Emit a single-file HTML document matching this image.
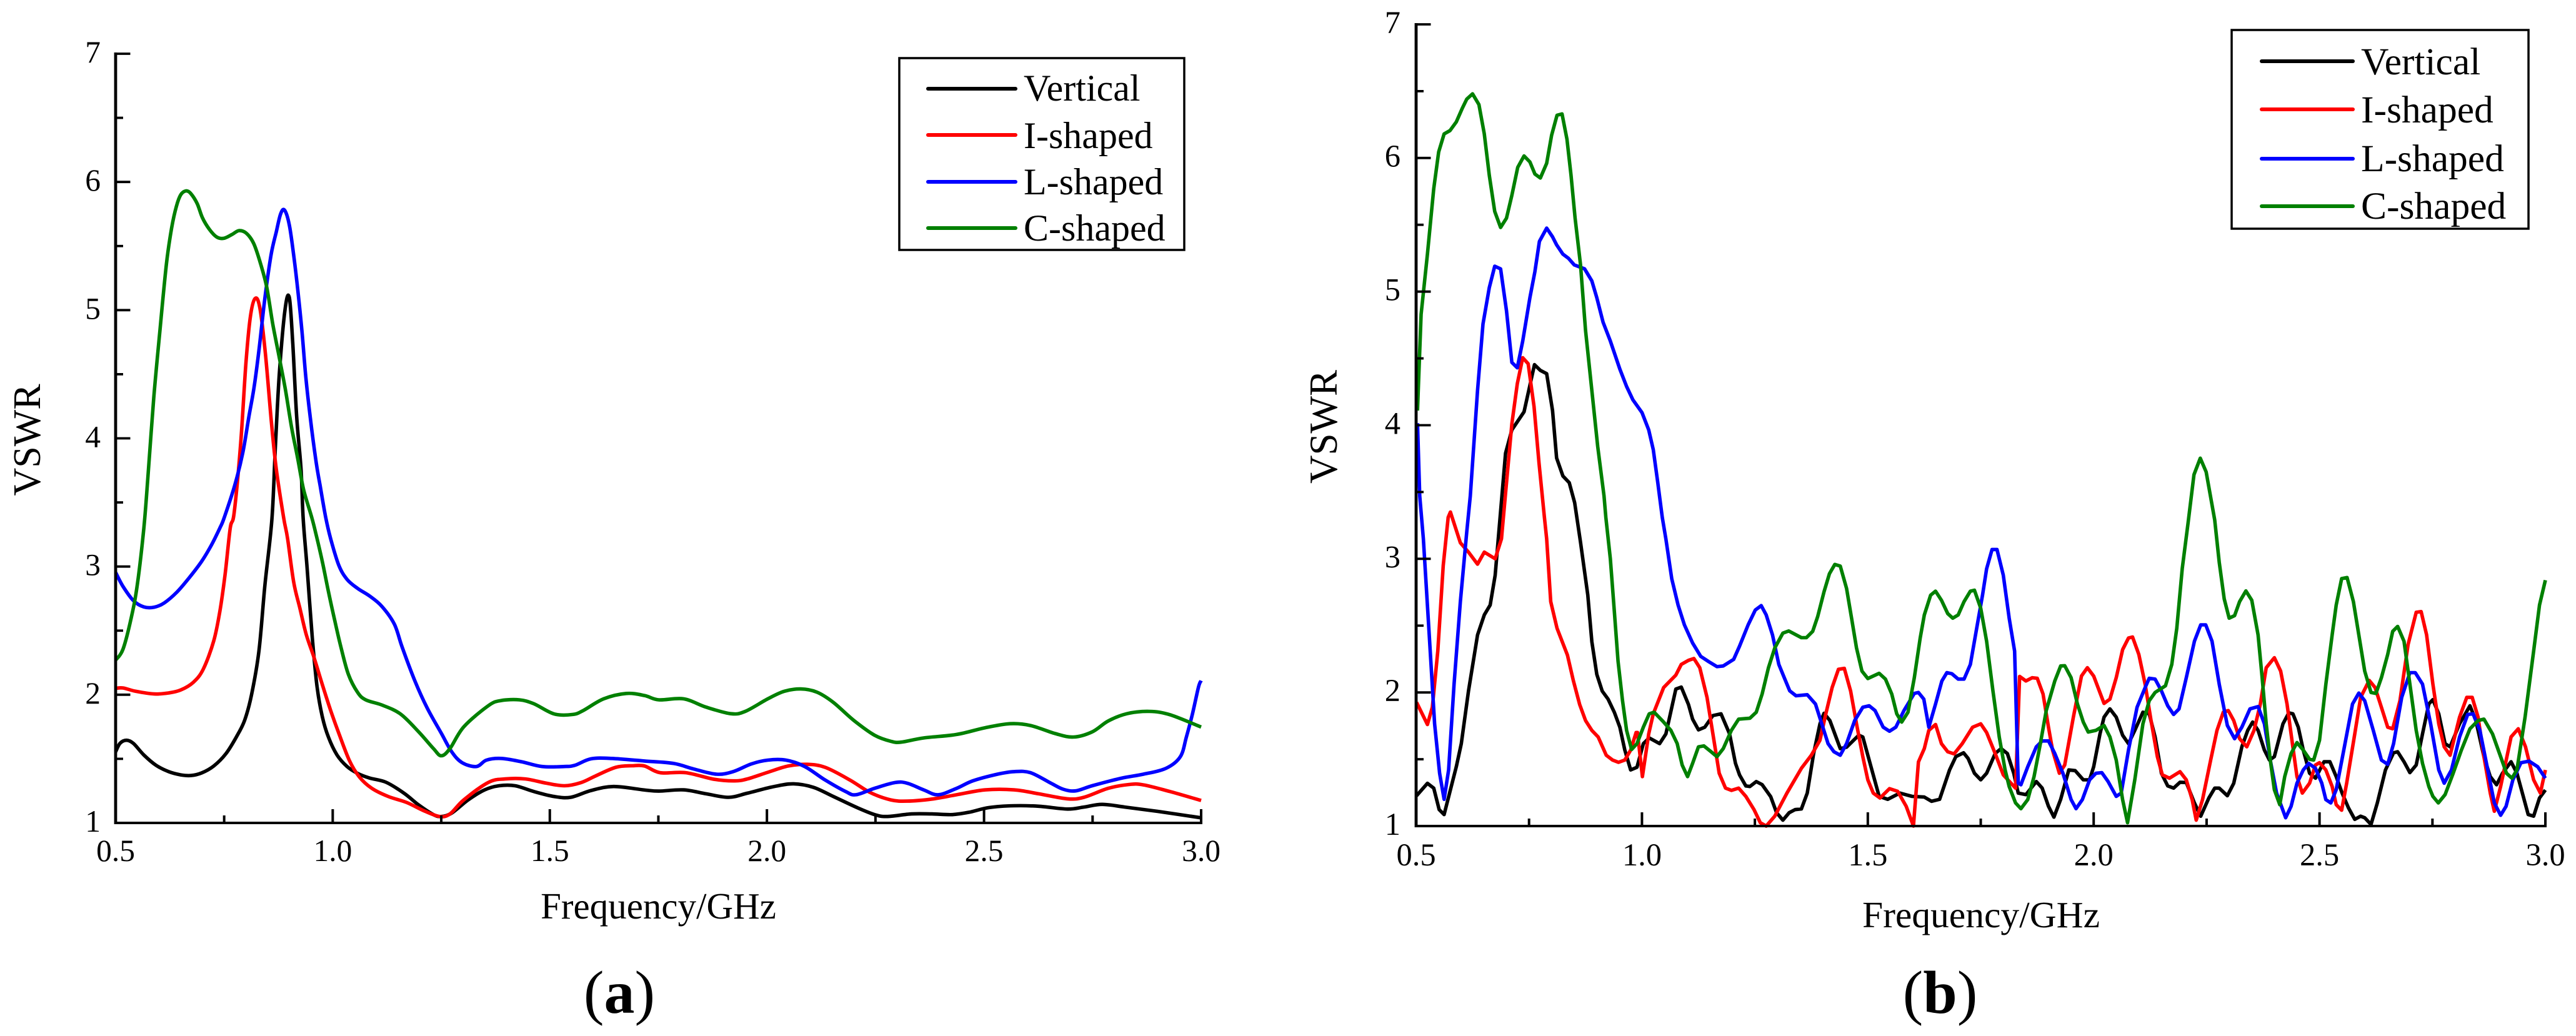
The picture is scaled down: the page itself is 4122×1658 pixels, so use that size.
<!DOCTYPE html>
<html lang="en">
<head>
<meta charset="utf-8">
<title>VSWR vs Frequency</title>
<style>
html,body{margin:0;padding:0;background:#fff;width:4122px;height:1658px;overflow:hidden}
svg{display:block}
text{font-family:"Liberation Serif","Times New Roman",serif;fill:#000}
</style>
</head>
<body>
<svg id="figure" xmlns="http://www.w3.org/2000/svg" width="4122" height="1658" viewBox="0 0 4122 1658">
  <rect x="0" y="0" width="4122" height="1658" fill="#fff"/>
  <g id="chart-a"></g>
  <g id="chart-b"></g>

  <text x="1053.5" y="1470" font-size="59" text-anchor="middle">Frequency/GHz</text>
  <text transform="translate(64,704) rotate(-90)" font-size="62" text-anchor="middle">VSWR</text>
  <text x="991" y="1621" font-size="98" text-anchor="middle">(<tspan font-weight="bold">a</tspan>)</text>

  <text x="3170" y="1484" font-size="59.5" text-anchor="middle">Frequency/GHz</text>
  <text transform="translate(2139,683) rotate(-90)" font-size="63" text-anchor="middle">VSWR</text>
  <text x="3104.5" y="1621" font-size="98" text-anchor="middle">(<tspan font-weight="bold">b</tspan>)</text>

  <g>
    <rect x="1439" y="93" width="456" height="307" fill="#fff" stroke="#000" stroke-width="3.5"/>
    <line x1="1485" x2="1625" y1="142" y2="142" stroke="#000" stroke-width="6" stroke-linecap="round"/>
    <line x1="1485" x2="1625" y1="216" y2="216" stroke="#f00" stroke-width="6" stroke-linecap="round"/>
    <line x1="1485" x2="1625" y1="291" y2="291" stroke="#00f" stroke-width="6" stroke-linecap="round"/>
    <line x1="1485" x2="1625" y1="365" y2="365" stroke="#008000" stroke-width="6" stroke-linecap="round"/>
    <text x="1638" y="161" font-size="60">Vertical</text>
    <text x="1638" y="237" font-size="60">I-shaped</text>
    <text x="1638" y="311" font-size="60">L-shaped</text>
    <text x="1638" y="385" font-size="60">C-shaped</text>
  </g>

  <g>
    <rect x="3571" y="48" width="475" height="318" fill="#fff" stroke="#000" stroke-width="3.5"/>
    <line x1="3619" x2="3765" y1="98" y2="98" stroke="#000" stroke-width="6" stroke-linecap="round"/>
    <line x1="3619" x2="3765" y1="175" y2="175" stroke="#f00" stroke-width="6" stroke-linecap="round"/>
    <line x1="3619" x2="3765" y1="254" y2="254" stroke="#00f" stroke-width="6" stroke-linecap="round"/>
    <line x1="3619" x2="3765" y1="330" y2="330" stroke="#008000" stroke-width="6" stroke-linecap="round"/>
    <text x="3778" y="119" font-size="61.5">Vertical</text>
    <text x="3778" y="196" font-size="61.5">I-shaped</text>
    <text x="3778" y="274" font-size="61.5">L-shaped</text>
    <text x="3778" y="350" font-size="61.5">C-shaped</text>
  </g>
</svg>

<script>
var xMajorTicks = [0.5, 1.0, 1.5, 2.0, 2.5, 3.0];
var xMajorLabels = ["0.5", "1.0", "1.5", "2.0", "2.5", "3.0"];
var xMinorTicks = [0.75, 1.25, 1.75, 2.25, 2.75];
var yMajorTicks = [1, 2, 3, 4, 5, 6, 7];
var yMajorLabels = ["1", "2", "3", "4", "5", "6", "7"];
var yMinorTicks = [1.5, 2.5, 3.5, 4.5, 5.5, 6.5];

var aVerticalFreq = [.5,.51,.525,.541,.565,.593,.622,.65,.674,.698,.726,.754,.778,.797,.813,.83,.844,.86,.868,.877,.89,.9,.908,.917,.927,.932,.941,.953,.964,.976,.99,1.01,1.033,1.057,1.085,1.123,1.165,1.198,1.232,1.25,1.274,1.312,1.35,1.383,1.42,1.463,1.51,1.548,1.595,1.647,1.716,1.751,1.808,1.86,1.912,1.955,2.011,2.059,2.106,2.153,2.21,2.248,2.276,2.333,2.38,2.427,2.465,2.512,2.569,2.626,2.692,2.73,2.772,2.824,2.9,3.0];
var aVerticalVswr = [1.555,1.62,1.645,1.62,1.53,1.45,1.4,1.375,1.37,1.39,1.444,1.54,1.67,1.8,2.0,2.34,2.86,3.37,3.94,4.5,5.0,5.1,4.74,4.17,3.76,3.37,2.99,2.445,2.06,1.83,1.67,1.53,1.44,1.387,1.35,1.317,1.23,1.14,1.065,1.05,1.077,1.18,1.258,1.29,1.29,1.245,1.206,1.2,1.253,1.284,1.258,1.248,1.258,1.227,1.2,1.232,1.28,1.305,1.279,1.206,1.116,1.065,1.05,1.07,1.07,1.065,1.083,1.12,1.134,1.13,1.108,1.124,1.145,1.124,1.09,1.04];

var aIShapedFreq = [.5,.517,.546,.589,.622,.65,.679,.702,.726,.74,.752,.764,.773,.788,.8,.81,.821,.832,.845,.859,.87,.887,.896,.91,.924,.939,.957,.976,.995,1.014,1.038,1.061,1.09,1.128,1.17,1.208,1.246,1.27,1.302,1.359,1.397,1.444,1.492,1.534,1.572,1.605,1.652,1.69,1.718,1.754,1.813,1.879,1.926,1.955,2.002,2.049,2.092,2.134,2.191,2.238,2.285,2.323,2.38,2.437,2.503,2.569,2.626,2.692,2.73,2.786,2.834,2.867,2.928,3.0];
var aIShapedVswr = [2.05,2.053,2.027,2.006,2.014,2.037,2.097,2.2,2.42,2.65,2.935,3.3,3.42,3.96,4.58,4.94,5.09,5.02,4.66,4.12,3.76,3.38,3.22,2.88,2.68,2.47,2.29,2.08,1.88,1.7,1.49,1.36,1.27,1.206,1.16,1.098,1.05,1.07,1.18,1.317,1.343,1.343,1.31,1.29,1.315,1.366,1.434,1.446,1.444,1.392,1.392,1.34,1.328,1.343,1.395,1.444,1.457,1.434,1.335,1.237,1.18,1.17,1.186,1.22,1.258,1.258,1.227,1.188,1.2,1.27,1.3,1.297,1.245,1.175];

var aLShapedFreq = [.5,.517,.541,.565,.589,.612,.641,.669,.698,.721,.74,.75,.774,.793,.807,.819,.83,.844,.858,.87,.88,.889,.9,.91,.919,.929,.938,.948,.962,.971,.984,.995,1.014,1.033,1.057,1.085,1.113,1.142,1.16,1.189,1.217,1.25,1.274,1.298,1.331,1.354,1.388,1.435,1.482,1.534,1.558,1.595,1.643,1.718,1.785,1.832,1.884,1.922,1.964,2.002,2.044,2.087,2.134,2.181,2.205,2.248,2.295,2.323,2.361,2.394,2.437,2.474,2.531,2.569,2.607,2.654,2.682,2.711,2.749,2.815,2.867,2.919,2.952,2.966,2.98,2.994,3.0];
var aLShapedVswr = [2.954,2.845,2.734,2.685,2.683,2.716,2.8,2.91,3.04,3.17,3.3,3.38,3.63,3.89,4.17,4.4,4.685,5.1,5.43,5.61,5.75,5.78,5.665,5.43,5.175,4.84,4.48,4.17,3.81,3.63,3.38,3.22,3.01,2.9,2.83,2.77,2.69,2.55,2.37,2.11,1.9,1.7,1.555,1.47,1.44,1.49,1.503,1.477,1.44,1.44,1.45,1.5,1.503,1.483,1.464,1.42,1.38,1.4,1.46,1.49,1.49,1.44,1.335,1.245,1.22,1.27,1.315,1.31,1.258,1.22,1.27,1.328,1.38,1.4,1.392,1.31,1.263,1.25,1.29,1.348,1.38,1.426,1.516,1.67,1.85,2.06,2.11];

var aCShapedFreq = [.5,.517,.536,.55,.565,.574,.588,.602,.617,.629,.64,.65,.662,.673,.688,.7,.716,.733,.749,.768,.784,.801,.818,.834,.848,.862,.877,.891,.905,.919,.933,.952,.962,.976,.99,1.005,1.019,1.036,1.057,1.076,1.113,1.156,1.198,1.232,1.25,1.27,1.302,1.359,1.388,1.43,1.463,1.51,1.553,1.577,1.624,1.676,1.718,1.751,1.808,1.86,1.917,1.95,2.002,2.04,2.078,2.115,2.153,2.2,2.248,2.285,2.309,2.361,2.437,2.503,2.56,2.607,2.664,2.706,2.749,2.786,2.829,2.881,2.928,3.0];
var aCShapedVswr = [2.27,2.355,2.6,2.858,3.3,3.68,4.32,4.84,5.36,5.64,5.81,5.9,5.93,5.91,5.83,5.72,5.63,5.57,5.56,5.59,5.62,5.6,5.52,5.36,5.18,4.89,4.63,4.38,4.09,3.85,3.6,3.38,3.245,3.04,2.806,2.574,2.37,2.16,2.02,1.96,1.92,1.85,1.71,1.58,1.524,1.58,1.75,1.916,1.955,1.96,1.93,1.85,1.846,1.877,1.968,2.01,1.994,1.96,1.968,1.903,1.852,1.87,1.968,2.027,2.045,2.02,1.94,1.8,1.684,1.637,1.63,1.663,1.69,1.743,1.774,1.76,1.697,1.67,1.71,1.795,1.852,1.87,1.844,1.748];

var bVerticalFreq = [.501,.525,.539,.551,.562,.589,.6,.616,.636,.651,.664,.675,.698,.712,.739,.762,.775,.789,.802,.811,.825,.839,.851,.864,.88,.889,.9,.912,.925,.939,.951,.962,.975,.989,1.003,1.016,1.039,1.053,1.075,1.087,1.103,1.112,1.125,1.139,1.157,1.175,1.194,1.207,1.216,1.23,1.239,1.253,1.266,1.285,1.298,1.312,1.326,1.339,1.353,1.366,1.38,1.394,1.403,1.416,1.439,1.453,1.48,1.489,1.507,1.525,1.544,1.571,1.598,1.625,1.641,1.659,1.681,1.695,1.712,1.722,1.736,1.75,1.763,1.782,1.795,1.809,1.823,1.833,1.85,1.873,1.886,1.9,1.912,1.927,1.945,1.959,1.977,1.991,2.0,2.014,2.023,2.036,2.05,2.064,2.077,2.091,2.109,2.123,2.136,2.15,2.164,2.177,2.191,2.205,2.223,2.237,2.255,2.268,2.278,2.296,2.31,2.328,2.341,2.352,2.364,2.378,2.389,2.4,2.419,2.432,2.441,2.453,2.464,2.478,2.491,2.51,2.523,2.537,2.55,2.564,2.578,2.591,2.6,2.614,2.628,2.646,2.664,2.673,2.687,2.7,2.714,2.728,2.742,2.751,2.764,2.778,2.789,2.81,2.833,2.846,2.864,2.878,2.892,2.905,2.924,2.937,2.951,2.962,2.974,2.987,3.0];
var bVerticalVswr = [1.227,1.32,1.284,1.123,1.086,1.444,1.617,2.01,2.43,2.58,2.654,2.877,3.79,3.965,4.10,4.453,4.41,4.386,4.11,3.755,3.62,3.57,3.42,3.123,2.73,2.38,2.136,2.01,1.95,1.85,1.74,1.57,1.42,1.44,1.617,1.66,1.617,1.69,2.025,2.04,1.91,1.80,1.72,1.74,1.827,1.84,1.69,1.47,1.383,1.30,1.296,1.333,1.31,1.22,1.10,1.044,1.10,1.123,1.128,1.247,1.543,1.765,1.844,1.79,1.58,1.59,1.68,1.667,1.444,1.222,1.2,1.247,1.222,1.217,1.185,1.2,1.42,1.52,1.548,1.506,1.395,1.346,1.395,1.543,1.58,1.543,1.395,1.247,1.235,1.333,1.284,1.148,1.067,1.2,1.42,1.415,1.346,1.346,1.444,1.69,1.815,1.877,1.815,1.68,1.617,1.716,1.852,1.84,1.667,1.395,1.30,1.284,1.328,1.326,1.173,1.074,1.21,1.284,1.284,1.227,1.32,1.593,1.716,1.778,1.716,1.568,1.494,1.519,1.765,1.847,1.84,1.74,1.568,1.395,1.358,1.481,1.481,1.37,1.247,1.136,1.05,1.074,1.062,1.012,1.173,1.42,1.548,1.556,1.481,1.4,1.457,1.69,1.914,1.946,1.84,1.617,1.593,1.765,1.9,1.79,1.519,1.37,1.309,1.395,1.481,1.395,1.222,1.086,1.074,1.21,1.27];

var bIShapedFreq = [.501,.525,.536,.548,.56,.571,.576,.598,.616,.636,.651,.675,.689,.698,.712,.724,.736,.748,.761,.772,.784,.789,.798,.812,.835,.848,.862,.875,.889,.903,.921,.935,.948,.962,.975,.987,.99,1.001,1.015,1.025,1.048,1.075,1.087,1.103,1.115,1.128,1.144,1.157,1.171,1.185,1.198,1.214,1.23,1.248,1.262,1.275,1.294,1.321,1.353,1.375,1.394,1.407,1.421,1.435,1.448,1.462,1.475,1.489,1.5,1.512,1.527,1.548,1.566,1.585,1.601,1.612,1.625,1.635,1.65,1.663,1.677,1.691,1.709,1.732,1.75,1.763,1.782,1.8,1.827,1.836,1.85,1.864,1.875,1.888,1.9,1.909,1.924,1.936,1.955,1.973,1.986,2.0,2.023,2.036,2.05,2.064,2.077,2.086,2.1,2.114,2.127,2.141,2.152,2.168,2.191,2.205,2.218,2.227,2.241,2.259,2.273,2.287,2.298,2.31,2.323,2.339,2.355,2.369,2.382,2.4,2.414,2.428,2.44,2.45,2.462,2.478,2.491,2.5,2.514,2.528,2.537,2.549,2.56,2.578,2.591,2.61,2.623,2.637,2.651,2.662,2.678,2.696,2.714,2.725,2.737,2.751,2.764,2.776,2.789,2.81,2.826,2.838,2.851,2.864,2.878,2.887,2.901,2.924,2.94,2.956,2.974,2.989,3.0];
var bIShapedVswr = [1.926,1.76,1.89,2.31,2.95,3.31,3.35,3.12,3.05,2.96,3.05,3.0,3.15,3.49,4.01,4.31,4.505,4.46,4.14,3.72,3.31,3.15,2.68,2.48,2.28,2.09,1.91,1.79,1.716,1.667,1.53,1.494,1.477,1.494,1.568,1.70,1.70,1.37,1.69,1.84,2.037,2.13,2.21,2.24,2.254,2.185,1.963,1.69,1.395,1.284,1.267,1.284,1.222,1.123,1.025,1.0,1.074,1.247,1.432,1.53,1.642,1.84,2.037,2.173,2.18,2.01,1.765,1.519,1.346,1.247,1.21,1.28,1.26,1.148,1.0,1.48,1.58,1.716,1.76,1.617,1.556,1.54,1.617,1.74,1.765,1.7,1.543,1.383,1.284,2.12,2.086,2.11,2.106,1.988,1.74,1.568,1.395,1.457,1.815,2.123,2.185,2.123,1.918,1.95,2.11,2.32,2.407,2.415,2.284,2.06,1.79,1.519,1.383,1.358,1.407,1.346,1.198,1.044,1.198,1.494,1.716,1.852,1.864,1.79,1.654,1.593,1.716,1.914,2.185,2.26,2.16,1.914,1.617,1.37,1.247,1.321,1.457,1.474,1.42,1.296,1.16,1.119,1.32,1.69,1.963,2.09,2.037,1.889,1.74,1.728,1.938,2.358,2.6,2.605,2.432,2.062,1.765,1.593,1.53,1.815,1.963,1.963,1.815,1.519,1.247,1.111,1.296,1.667,1.728,1.593,1.346,1.247,1.42];

var bLShapedFreq = [.503,.508,.516,.529,.541,.552,.562,.572,.584,.598,.612,.62,.636,.648,.662,.674,.687,.7,.712,.724,.736,.752,.763,.773,.789,.802,.811,.825,.837,.85,.873,.889,.9,.914,.93,.951,.966,.98,1.0,1.015,1.025,1.035,1.045,1.053,1.066,1.08,1.094,1.112,1.13,1.148,1.166,1.18,1.203,1.216,1.235,1.251,1.264,1.275,1.289,1.303,1.315,1.327,1.341,1.366,1.384,1.398,1.412,1.425,1.439,1.453,1.471,1.489,1.503,1.516,1.534,1.548,1.562,1.58,1.603,1.612,1.624,1.635,1.65,1.664,1.675,1.686,1.7,1.713,1.727,1.741,1.754,1.763,1.775,1.786,1.8,1.813,1.825,1.833,1.839,1.854,1.873,1.886,1.9,1.914,1.932,1.95,1.961,1.975,1.991,2.005,2.018,2.032,2.05,2.061,2.077,2.096,2.114,2.123,2.136,2.15,2.164,2.177,2.189,2.205,2.223,2.237,2.248,2.262,2.278,2.296,2.312,2.328,2.346,2.364,2.378,2.391,2.405,2.425,2.437,2.45,2.464,2.476,2.491,2.505,2.514,2.525,2.537,2.555,2.573,2.587,2.6,2.619,2.637,2.651,2.664,2.682,2.7,2.712,2.728,2.746,2.764,2.776,2.792,2.81,2.828,2.84,2.855,2.874,2.887,2.901,2.913,2.928,2.946,2.964,2.983,3.0];
var bLShapedVswr = [4.015,3.47,3.15,2.43,1.765,1.395,1.2,1.42,2.06,2.68,3.2,3.47,4.26,4.757,5.03,5.19,5.17,4.857,4.47,4.43,4.63,4.955,5.15,5.376,5.475,5.41,5.35,5.28,5.25,5.2,5.17,5.08,4.955,4.77,4.63,4.42,4.29,4.19,4.095,3.965,3.817,3.57,3.31,3.148,2.85,2.654,2.506,2.37,2.27,2.23,2.193,2.198,2.247,2.346,2.506,2.617,2.65,2.58,2.43,2.21,2.11,2.012,1.975,1.983,1.914,1.765,1.617,1.556,1.53,1.617,1.79,1.889,1.9,1.864,1.74,1.71,1.74,1.864,1.993,2.0,1.95,1.74,1.914,2.086,2.148,2.14,2.1,2.1,2.21,2.48,2.73,2.926,3.07,3.07,2.877,2.556,2.309,1.32,1.309,1.444,1.593,1.637,1.637,1.543,1.395,1.198,1.13,1.198,1.346,1.395,1.4,1.333,1.222,1.247,1.568,1.889,2.037,2.106,2.1,2.012,1.9,1.835,1.877,2.11,2.383,2.506,2.506,2.383,2.062,1.753,1.654,1.74,1.877,1.894,1.765,1.494,1.247,1.062,1.148,1.321,1.42,1.469,1.432,1.321,1.198,1.173,1.272,1.593,1.914,1.995,1.938,1.716,1.494,1.462,1.617,1.963,2.148,2.148,2.062,1.765,1.42,1.321,1.42,1.667,1.835,1.84,1.716,1.395,1.173,1.081,1.148,1.346,1.474,1.486,1.444,1.358];

var bCShapedFreq = [.503,.511,.525,.539,.55,.562,.575,.589,.602,.612,.625,.639,.651,.662,.674,.687,.7,.712,.725,.739,.752,.763,.775,.789,.8,.812,.823,.834,.843,.852,.864,.875,.889,.902,.916,.92,.93,.939,.947,.957,.966,.977,.989,1.003,1.016,1.027,1.048,1.064,1.078,1.089,1.101,1.112,1.125,1.137,1.153,1.166,1.18,1.198,1.214,1.239,1.253,1.266,1.28,1.294,1.312,1.325,1.353,1.364,1.378,1.389,1.403,1.415,1.427,1.439,1.453,1.464,1.475,1.487,1.5,1.525,1.539,1.553,1.564,1.575,1.589,1.603,1.616,1.625,1.639,1.65,1.663,1.677,1.688,1.7,1.713,1.727,1.736,1.75,1.763,1.777,1.791,1.804,1.813,1.827,1.839,1.854,1.868,1.882,1.895,1.914,1.927,1.936,1.95,1.964,1.977,1.988,2.005,2.023,2.036,2.05,2.064,2.075,2.091,2.109,2.123,2.136,2.159,2.173,2.184,2.196,2.209,2.222,2.236,2.249,2.268,2.278,2.289,2.3,2.312,2.323,2.337,2.35,2.364,2.373,2.382,2.391,2.4,2.412,2.423,2.437,2.45,2.464,2.478,2.487,2.5,2.514,2.528,2.537,2.549,2.561,2.575,2.587,2.6,2.614,2.625,2.637,2.651,2.662,2.673,2.687,2.7,2.714,2.728,2.742,2.751,2.763,2.778,2.796,2.814,2.833,2.851,2.864,2.883,2.901,2.914,2.926,2.937,2.955,2.974,2.987,3.0];
var bCShapedVswr = [4.11,4.83,5.28,5.77,6.045,6.18,6.205,6.27,6.37,6.44,6.48,6.40,6.18,5.87,5.6,5.48,5.55,5.72,5.93,6.015,5.97,5.88,5.85,5.96,6.17,6.32,6.33,6.14,5.87,5.55,5.2,4.71,4.26,3.84,3.47,3.31,3.0,2.6,2.235,1.938,1.716,1.573,1.617,1.74,1.84,1.852,1.778,1.716,1.617,1.457,1.37,1.469,1.593,1.6,1.556,1.519,1.58,1.716,1.8,1.807,1.852,1.988,2.185,2.333,2.444,2.46,2.41,2.41,2.457,2.568,2.753,2.889,2.958,2.946,2.778,2.556,2.333,2.16,2.104,2.143,2.1,1.988,1.84,1.778,1.852,2.11,2.407,2.58,2.728,2.758,2.69,2.59,2.556,2.58,2.68,2.758,2.765,2.63,2.383,2.012,1.667,1.42,1.296,1.173,1.13,1.198,1.37,1.617,1.864,2.086,2.198,2.2,2.11,1.914,1.778,1.704,1.716,1.753,1.667,1.494,1.198,1.025,1.346,1.765,1.938,2.0,2.05,2.21,2.48,2.926,3.27,3.63,3.753,3.65,3.29,2.975,2.7,2.556,2.575,2.68,2.76,2.69,2.43,2.11,1.765,1.494,1.272,1.16,1.37,1.543,1.625,1.568,1.5,1.494,1.642,2.06,2.43,2.654,2.852,2.86,2.68,2.43,2.16,2.0,1.993,2.11,2.284,2.457,2.494,2.383,2.062,1.716,1.469,1.296,1.222,1.173,1.235,1.395,1.568,1.728,1.79,1.8,1.69,1.519,1.395,1.358,1.42,1.815,2.309,2.654,2.84];

var NS = "http://www.w3.org/2000/svg";

function xScale(chart, f) {
  return chart.x0 + (f - 0.5) / 2.5 * (chart.x1 - chart.x0);
}
function yScale(chart, v) {
  return chart.y1 - (v - 1) / 6 * (chart.y1 - chart.y7);
}
function svgEl(tag, attrs, parent) {
  var el = document.createElementNS(NS, tag);
  for (var k in attrs) { el.setAttribute(k, attrs[k]); }
  parent.appendChild(el);
  return el;
}

function drawSeries(chart, group, name, freq, vswr, color) {
  var pts = [];
  var n = Math.min(freq.length, vswr.length);
  for (var i = 0; i < n; i++) {
    pts.push([xScale(chart, freq[i]), Math.min(yScale(chart, vswr[i]), chart.y1)]);
  }
  var d = "M" + pts[0][0].toFixed(1) + " " + pts[0][1].toFixed(1);
  for (var j = 0; j < n - 1; j++) {
    var p1 = pts[j], p2 = pts[j + 1];
    if (chart.smooth) {
      var p0 = pts[Math.max(j - 1, 0)], p3 = pts[Math.min(j + 2, n - 1)];
      var c1x = p1[0] + (p2[0] - p0[0]) / 6, c1y = p1[1] + (p2[1] - p0[1]) / 6;
      var c2x = p2[0] - (p3[0] - p1[0]) / 6, c2y = p2[1] - (p3[1] - p1[1]) / 6;
      d += "C" + c1x.toFixed(1) + " " + c1y.toFixed(1) + " " + c2x.toFixed(1) + " " + c2y.toFixed(1) + " " + p2[0].toFixed(1) + " " + p2[1].toFixed(1);
    } else {
      d += "L" + p2[0].toFixed(1) + " " + p2[1].toFixed(1);
    }
  }
  var line = svgEl("path", {
    d: d, fill: "none", stroke: color,
    "stroke-width": chart.lineWidth, "stroke-linejoin": "round", "stroke-linecap": "butt"
  }, group);
  
  
}

function drawAxes(chart, group) {
  var axisY = svgEl("line", {x1: chart.x0, x2: chart.x0, y1: chart.y7 - 2, y2: chart.y1 + 2, stroke: "#000", "stroke-width": 4.8}, group);
  
  
  var axisX = svgEl("line", {x1: chart.x0 - 2, x2: chart.x1 + 2, y1: chart.y1, y2: chart.y1, stroke: "#000", "stroke-width": 4}, group);
  
  

  xMajorTicks.forEach(function (f, i) {
    var x = xScale(chart, f);
    var tick = svgEl("line", {x1: x, x2: x, y1: chart.y1, y2: chart.y1 - 22, stroke: "#000", "stroke-width": 4}, group);
    
    
    var label = svgEl("text", {x: x, y: chart.xLabelY, "font-size": chart.tickFont, "text-anchor": "middle"}, group);
    label.textContent = xMajorLabels[i];
    
    
  });
  xMinorTicks.forEach(function (f) {
    var x = xScale(chart, f);
    var tick = svgEl("line", {x1: x, x2: x, y1: chart.y1, y2: chart.y1 - 12, stroke: "#000", "stroke-width": 4}, group);
    
    
  });
  yMajorTicks.forEach(function (v, i) {
    var y = yScale(chart, v);
    var tick = svgEl("line", {x1: chart.x0, x2: chart.x0 + 23.5, y1: y, y2: y, stroke: "#000", "stroke-width": 3.8}, group);
    
    
    var label = svgEl("text", {x: chart.yLabelX, y: y + 14, "font-size": chart.tickFont, "text-anchor": "end"}, group);
    label.textContent = yMajorLabels[i];
    
    
  });
  yMinorTicks.forEach(function (v) {
    var y = yScale(chart, v);
    var tick = svgEl("line", {x1: chart.x0, x2: chart.x0 + 12, y1: y, y2: y, stroke: "#000", "stroke-width": 3.8}, group);
    
    
  });
}

var chartA = {id: "chart-a", x0: 185, x1: 1922, y7: 86, y1: 1317, lineWidth: 5.6, smooth: true, tickFont: 49.5, xLabelY: 1378, yLabelX: 161};
var chartB = {id: "chart-b", x0: 2266, x1: 4073, y7: 39, y1: 1322, lineWidth: 5.6, smooth: false, tickFont: 50.5, xLabelY: 1385, yLabelX: 2241};

var groupA = document.getElementById("chart-a");
var groupB = document.getElementById("chart-b");

drawSeries(chartA, groupA, "vertical", aVerticalFreq, aVerticalVswr, "#000");
drawSeries(chartA, groupA, "i-shaped", aIShapedFreq, aIShapedVswr, "#f00");
drawSeries(chartA, groupA, "l-shaped", aLShapedFreq, aLShapedVswr, "#00f");
drawSeries(chartA, groupA, "c-shaped", aCShapedFreq, aCShapedVswr, "#008000");
drawAxes(chartA, groupA);

drawSeries(chartB, groupB, "vertical", bVerticalFreq, bVerticalVswr, "#000");
drawSeries(chartB, groupB, "i-shaped", bIShapedFreq, bIShapedVswr, "#f00");
drawSeries(chartB, groupB, "l-shaped", bLShapedFreq, bLShapedVswr, "#00f");
drawSeries(chartB, groupB, "c-shaped", bCShapedFreq, bCShapedVswr, "#008000");
drawAxes(chartB, groupB);
</script>
</body>
</html>
